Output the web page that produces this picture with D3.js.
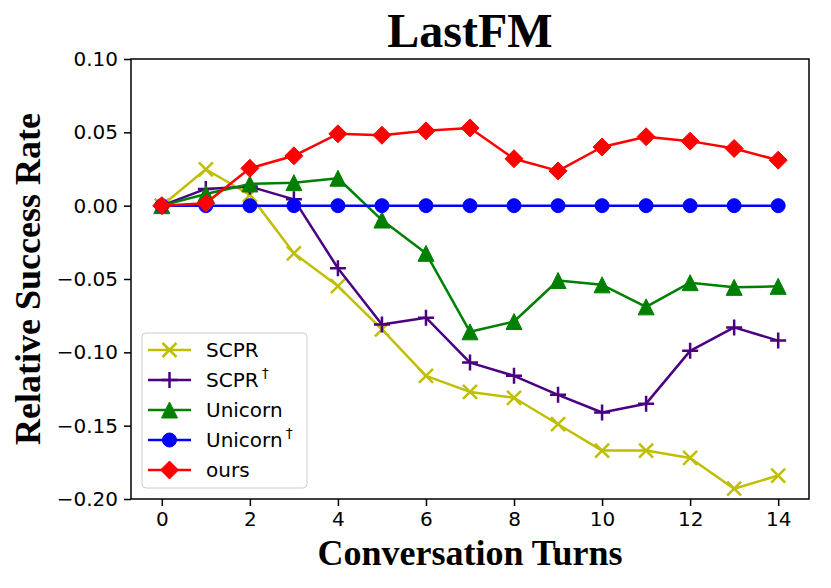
<!DOCTYPE html>
<html>
<head>
<meta charset="utf-8">
<script src="https://cdn.jsdelivr.net/npm/d3@7"></script>
<style>
  body { margin: 0; background: #fff; }
  svg { display: block; }
</style>
</head>
<body>
<svg width="831" height="588"></svg>
<script>
const turns = d3.range(0, 15);
const scpr       = [0, 0.0248, 0.0073, -0.0325, -0.0548, -0.0843, -0.116, -0.127, -0.131, -0.149, -0.167, -0.167, -0.172, -0.193, -0.184];
const scprDagger = [0, 0.0114, 0.013, 0.0043, -0.0427, -0.081, -0.0764, -0.107, -0.116, -0.129, -0.141, -0.135, -0.099, -0.083, -0.092];
const unicorn    = [0, 0.008, 0.0148, 0.0157, 0.0187, -0.0098, -0.0325, -0.086, -0.079, -0.051, -0.054, -0.069, -0.0525, -0.0557, -0.055];
const unicornDagger = [0, 0, 0, 0, 0, 0, 0, 0, 0, 0, 0, 0, 0, 0, 0];
const ours       = [0, 0.0017, 0.0255, 0.034, 0.049, 0.048, 0.051, 0.053, 0.032, 0.0237, 0.040, 0.047, 0.044, 0.039, 0.031];
const yTicks = [-0.20, -0.15, -0.10, -0.05, 0.00, 0.05, 0.10];
const xTicks = [0, 2, 4, 6, 8, 10, 12, 14];

const series = [
  { name: "SCPR", dagger: false, values: scpr, color: "#bfbf00", marker: "x" },
  { name: "SCPR", dagger: true, values: scprDagger, color: "#4b0082", marker: "+" },
  { name: "Unicorn", dagger: false, values: unicorn, color: "#008000", marker: "^" },
  { name: "Unicorn", dagger: true, values: unicornDagger, color: "#0000ff", marker: "o" },
  { name: "ours", dagger: false, values: ours, color: "#ff0000", marker: "D" }
];

const svg = d3.select("svg");
const width = +svg.attr("width");
const height = +svg.attr("height");
const margin = { top: 59, right: 22, bottom: 89, left: 131 };
const innerWidth = width - margin.left - margin.right;
const innerHeight = height - margin.top - margin.bottom;
const g = svg.append("g").attr("transform", "translate(" + margin.left + "," + margin.top + ")");

const xscale = d3.scaleLinear().domain([-0.7, 14.7]).range([0, innerWidth]);
const yscale = d3.scaleLinear().domain([-0.2, 0.1]).range([innerHeight, 0]);

const tickFont = "'DejaVu Sans', sans-serif";
const serif = "'Liberation Serif', 'Times New Roman', serif";

// axes
const xaxis = d3.axisBottom(xscale).tickValues(xTicks).tickSize(7).tickPadding(6).tickFormat(d3.format("d"));
const yaxis = d3.axisLeft(yscale).tickValues(yTicks).tickSize(7).tickPadding(6).tickFormat(d3.format(".2f"));
const gx = g.append("g").attr("transform", "translate(0," + innerHeight + ")").call(xaxis);
const gy = g.append("g").call(yaxis);
[gx, gy].forEach(a => {
  a.select(".domain").remove();
  a.selectAll(".tick line").attr("stroke", "#000").attr("stroke-width", 1.5);
  a.selectAll(".tick text").attr("fill", "#000").style("font-family", tickFont).style("font-size", "20px");
});

// lines and markers
function markerPath(type) {
  const p = d3.path();
  if (type === "x") {
    const r = 7;
    p.moveTo(-r, -r); p.lineTo(r, r); p.moveTo(-r, r); p.lineTo(r, -r);
  } else if (type === "+") {
    const r = 8;
    p.moveTo(-r, 0); p.lineTo(r, 0); p.moveTo(0, -r); p.lineTo(0, r);
  } else if (type === "^") {
    const r = 8;
    p.moveTo(0, -r); p.lineTo(-r, r); p.lineTo(r, r); p.closePath();
  } else if (type === "o") {
    p.arc(0, 0, 7, 0, 2 * Math.PI);
  } else if (type === "D") {
    const r = 9;
    p.moveTo(0, -r); p.lineTo(r, 0); p.lineTo(0, r); p.lineTo(-r, 0); p.closePath();
  }
  return p.toString();
}
function drawMarker(sel, s) {
  const stroked = s.marker === "x" || s.marker === "+";
  sel.append("path")
    .attr("d", markerPath(s.marker))
    .attr("fill", stroked ? "none" : s.color)
    .attr("stroke", s.color)
    .attr("stroke-width", stroked ? 2.5 : 1);
}

const line = d3.line().x((d, i) => xscale(turns[i])).y(d => yscale(d));
const plot = g.append("g");
series.forEach(s => {
  const sg = plot.append("g");
  sg.append("path").datum(s.values)
    .attr("d", line)
    .attr("fill", "none")
    .attr("stroke", s.color)
    .attr("stroke-width", 2.5)
    .attr("stroke-linejoin", "round");
  sg.selectAll("g.m").data(s.values).join("g")
    .attr("transform", (d, i) => "translate(" + xscale(turns[i]) + "," + yscale(d) + ")")
    .each(function () { drawMarker(d3.select(this), s); });
});

// frame
g.append("rect").attr("width", innerWidth).attr("height", innerHeight)
  .attr("fill", "none").attr("stroke", "#000").attr("stroke-width", 1.5);

// legend
const legend = g.append("g").attr("transform", "translate(11,274)");
legend.append("rect").attr("width", 165).attr("height", 155).attr("rx", 4)
  .attr("fill", "#fff").attr("fill-opacity", 0.8).attr("stroke", "#ccc").attr("stroke-width", 1);
series.forEach((s, i) => {
  const row = legend.append("g").attr("transform", "translate(0," + (17 + i * 30) + ")");
  row.append("line").attr("x1", 6).attr("x2", 49).attr("stroke", s.color).attr("stroke-width", 2.5);
  const m = row.append("g").attr("transform", "translate(27.5,0)");
  drawMarker(m, s);
  const t = row.append("text").attr("x", 64).attr("y", 7)
    .style("font-family", tickFont).style("font-size", "20px").attr("fill", "#000")
    .text(s.name);
  if (s.dagger) {
    t.append("tspan").attr("dx", 3).attr("dy", -9).style("font-size", "14px").text("\u2020");
  }
});

// title and labels
svg.append("text").attr("x", margin.left + innerWidth / 2).attr("y", 47)
  .attr("text-anchor", "middle").style("font-family", serif).style("font-weight", "bold")
  .style("font-size", "48px").text("LastFM");
svg.append("text").attr("x", margin.left + innerWidth / 2).attr("y", 565)
  .attr("text-anchor", "middle").style("font-family", serif).style("font-weight", "bold")
  .style("font-size", "36px").text("Conversation Turns");
svg.append("text").attr("transform", "translate(40," + (margin.top + innerHeight / 2) + ") rotate(-90)")
  .attr("text-anchor", "middle").style("font-family", serif).style("font-weight", "bold")
  .style("font-size", "36px").text("Relative Success Rate");
</script>
</body>
</html>
